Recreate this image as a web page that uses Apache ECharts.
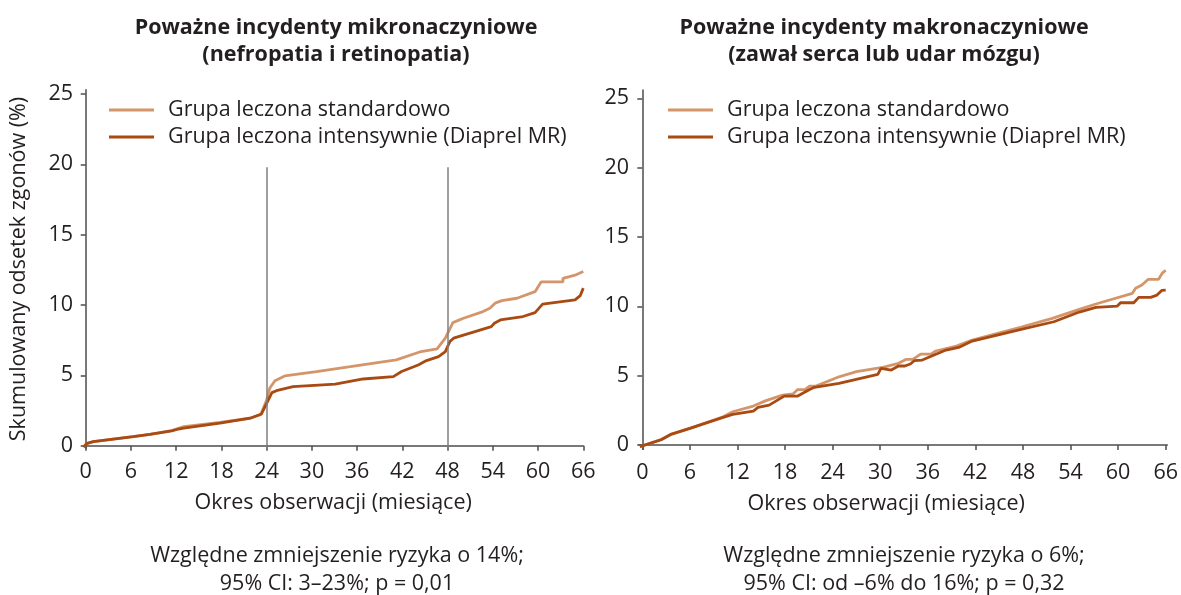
<!DOCTYPE html>
<html>
<head>
<meta charset="utf-8">
<script src="https://cdn.jsdelivr.net/npm/echarts@6/dist/echarts.min.js"></script>
<style>
  html, body { margin: 0; padding: 0; background: #fff; }
  #chart { width: 1181px; height: 595px; }
</style>
</head>
<body>
<div id="chart"></div>
<script>
// nazwy serii
var seriesNames = ['Grupa leczona standardowo', 'Grupa leczona intensywnie (Diaprel MR)'];
var monthTicks = [0, 6, 12, 18, 24, 30, 36, 42, 48, 54, 60, 66];
var pctTicks = [0, 5, 10, 15, 20, 25];
var visitMonths = [24, 48];

// mikronaczyniowe - grupa standardowa
var micStdMonths = [-0.3, 0.2, 1.0, 6.3, 8.5, 11.4, 12.1, 13.0, 17.8, 21.8, 23.2, 24.0, 24.4, 25.1, 26.4, 30.6, 35.1, 41.2, 44.3, 46.6, 47.7, 48.7, 50.1, 52.7, 53.6, 54.3, 55.2, 57.2, 59.6, 60.4, 63.3, 63.3, 64.9, 66.0];
var micStdValues = [-0.1, 0.17, 0.29, 0.64, 0.81, 1.07, 1.2, 1.35, 1.65, 1.95, 2.2, 3.25, 4.08, 4.62, 4.96, 5.27, 5.62, 6.1, 6.66, 6.88, 7.64, 8.75, 9.06, 9.53, 9.77, 10.13, 10.31, 10.48, 10.95, 11.64, 11.64, 11.9, 12.12, 12.38];
// mikronaczyniowe - grupa intensywna
var micIntMonths = [-0.3, 0.2, 1.0, 6.3, 8.5, 11.4, 12.1, 13.0, 17.8, 21.8, 23.3, 24.0, 24.7, 25.3, 27.5, 33.1, 36.8, 40.8, 41.9, 44.1, 45.2, 46.8, 47.7, 48.3, 48.8, 53.8, 54.2, 55.0, 58.0, 59.6, 60.6, 64.9, 65.6, 66.0];
var micIntValues = [-0.1, 0.17, 0.29, 0.64, 0.81, 1.05, 1.15, 1.25, 1.6, 1.95, 2.25, 3.0, 3.77, 3.91, 4.2, 4.37, 4.74, 4.91, 5.27, 5.74, 6.05, 6.33, 6.69, 7.4, 7.64, 8.46, 8.7, 8.94, 9.18, 9.46, 10.06, 10.36, 10.67, 11.2];

// makronaczyniowe - grupa standardowa
var macStdMonths = [-0.3, 2.4, 3.7, 6.0, 10.2, 11.4, 14.0, 15.6, 17.7, 19.0, 19.6, 20.5, 21.1, 21.9, 24.8, 27.0, 30.3, 30.7, 32.3, 33.3, 34.1, 35.1, 36.4, 37.0, 39.6, 41.6, 47.9, 51.7, 55.1, 57.2, 61.8, 62.2, 63.0, 63.8, 65.1, 65.6, 66.0];
var macStdValues = [-0.12, 0.41, 0.79, 1.2, 2.04, 2.4, 2.81, 3.2, 3.6, 3.68, 4.0, 4.0, 4.25, 4.25, 4.92, 5.29, 5.6, 5.65, 5.89, 6.18, 6.18, 6.56, 6.56, 6.78, 7.14, 7.57, 8.53, 9.13, 9.78, 10.17, 10.94, 11.3, 11.54, 11.95, 11.95, 12.42, 12.6];
// makronaczyniowe - grupa intensywna
var macIntMonths = [-0.3, 2.4, 3.7, 6.0, 10.2, 11.4, 14.0, 14.6, 16.0, 17.9, 19.6, 21.1, 21.7, 24.8, 29.7, 30.1, 31.4, 32.3, 33.1, 33.3, 33.8, 34.3, 35.3, 38.3, 39.9, 41.6, 47.9, 51.9, 55.1, 57.2, 59.9, 60.3, 61.97, 62.6, 64.1, 64.9, 65.5, 66.0];
var macIntValues = [-0.12, 0.38, 0.79, 1.2, 2.0, 2.21, 2.45, 2.72, 2.88, 3.53, 3.53, 4.0, 4.16, 4.45, 5.1, 5.53, 5.41, 5.7, 5.7, 5.84, 5.84, 6.08, 6.13, 6.85, 7.04, 7.5, 8.36, 8.89, 9.59, 9.93, 10.02, 10.26, 10.26, 10.65, 10.65, 10.81, 11.15, 11.17];

function pairs(xs, ys) {
  return xs.map(function (x, i) { return [x, ys[i]]; });
}

var FONT = 'Open Sans';
var FS = 21.5;
var TXT = '#231f20';
var AXIS = '#4d4d4d';
var LIGHT = '#d4956a';
var DARK = '#a84a12';

function xAx(idx, min, max, namePad) {
  return {
    type: 'value', gridIndex: idx, min: min, max: max,
    name: 'Okres obserwacji (miesiące)', nameLocation: 'middle', nameGap: 44,
    nameTextStyle: { fontFamily: FONT, fontSize: FS, color: TXT, padding: namePad },
    axisLine: { show: true, lineStyle: { color: AXIS, width: 1.5 } },
    axisTick: { show: true, length: 5, customValues: monthTicks, lineStyle: { color: AXIS, width: 1.5 } },
    axisLabel: { customValues: monthTicks, margin: 13, fontFamily: FONT, fontSize: FS, color: TXT },
    splitLine: { show: false }
  };
}
function yAx(idx, min, max, name) {
  return {
    type: 'value', gridIndex: idx, min: min, max: max,
    name: name, nameLocation: 'middle', nameGap: 53,
    nameTextStyle: { fontFamily: FONT, fontSize: FS, color: TXT },
    axisLine: { show: true, lineStyle: { color: AXIS, width: 1.5 } },
    axisTick: { show: true, length: 5, customValues: pctTicks, lineStyle: { color: AXIS, width: 1.5 } },
    axisLabel: { customValues: pctTicks, margin: 10, fontFamily: FONT, fontSize: FS, color: TXT },
    splitLine: { show: false }
  };
}
function lineSeries(name, idx, color, data, extra) {
  var s = {
    name: name, type: 'line', xAxisIndex: idx, yAxisIndex: idx,
    data: data, showSymbol: false, symbol: 'none',
    lineStyle: { color: color, width: 2.8 }, itemStyle: { color: color },
    animation: false
  };
  if (extra) s.markLine = extra;
  return s;
}
function legendAt(left) {
  return {
    left: left, top: 94, orient: 'vertical', data: seriesNames,
    icon: 'rect', itemWidth: 45, itemHeight: 3, itemGap: 5,
    textStyle: { fontFamily: FONT, fontSize: FS, color: TXT, lineHeight: 22, padding: [0, 0, 0, 9] },
    selectedMode: false
  };
}

var myChart = echarts.init(document.getElementById('chart'));
var option = {
  backgroundColor: '#fff',
  animation: false,
  title: [
    {
      text: 'Poważne incydenty mikronaczyniowe\n(nefropatia i retinopatia)',
      left: 331, top: 9, textAlign: 'center',
      textStyle: { fontFamily: FONT, fontSize: 21.5, fontWeight: 'bold', color: TXT, lineHeight: 27 }
    },
    {
      text: 'Poważne incydenty makronaczyniowe\n(zawał serca lub udar mózgu)',
      left: 879, top: 9, textAlign: 'center',
      textStyle: { fontFamily: FONT, fontSize: 21.5, fontWeight: 'bold', color: TXT, lineHeight: 27 }
    },
    {
      text: 'Względne zmniejszenie ryzyka o 14%;\n95% CI: 3–23%; p = 0,01',
      left: 332, top: 537, textAlign: 'center',
      textStyle: { fontFamily: FONT, fontSize: FS, fontWeight: 'normal', color: TXT, lineHeight: 28 }
    },
    {
      text: 'Względne zmniejszenie ryzyka o 6%;\n95% CI: od –6% do 16%; p = 0,32',
      left: 899, top: 537, textAlign: 'center',
      textStyle: { fontFamily: FONT, fontSize: FS, fontWeight: 'normal', color: TXT, lineHeight: 28 }
    }
  ],
  legend: [legendAt(104), legendAt(663)],
  grid: [
    { left: 83, right: 597.7, top: 89.8, bottom: 146.8 },
    { left: 639.1, right: 12.1, top: 90, bottom: 145.8 }
  ],
  xAxis: [xAx(0, -0.36, 66, [0, 0, 0, 0]), xAx(1, -0.4, 66.2, [0, 34, 0, 0])],
  yAxis: [yAx(0, -0.18, 25.3, 'Skumulowany odsetek zgonów (%)'), yAx(1, -0.3, 25.6, '')],
  series: [
    lineSeries(seriesNames[0], 0, LIGHT, pairs(micStdMonths, micStdValues), {
      silent: true, symbol: 'none', label: { show: false },
      lineStyle: { color: '#7f7f7f', width: 1.5, type: 'solid' },
      data: visitMonths.map(function (m) { return [{ coord: [m, -0.18] }, { coord: [m, 19.8] }]; })
    }),
    lineSeries(seriesNames[1], 0, DARK, pairs(micIntMonths, micIntValues)),
    lineSeries(seriesNames[0], 1, LIGHT, pairs(macStdMonths, macStdValues)),
    lineSeries(seriesNames[1], 1, DARK, pairs(macIntMonths, macIntValues))
  ]
};
myChart.setOption(option);
window.addEventListener('resize', function () { myChart.resize(); });
</script>
</body>
</html>
